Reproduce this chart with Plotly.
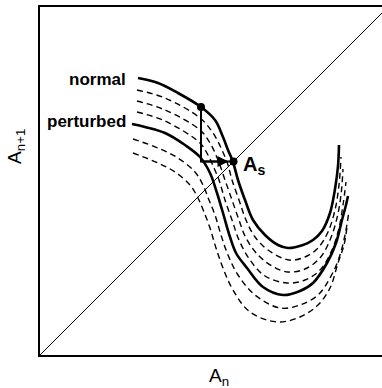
import plotly.graph_objects as go

# Return-map curves A_{n+1} = f(A_n); units are arbitrary (box spans 0..348).
normal_x = [98, 118, 138, 161, 175, 183, 188, 193, 198, 205, 213, 225, 238, 248, 263, 273, 282, 290, 295, 298, 299]
normal_y = [277, 272, 262, 248, 235, 218, 205, 193, 175, 155, 135, 120, 110, 107, 110, 115, 124, 142, 166, 189, 210]

perturbed_x = [92, 105, 125, 145, 160, 170, 177, 183, 190, 196, 207, 223, 243, 260, 273, 287, 296, 302, 306, 308]
perturbed_y = [231, 228, 222, 210, 198, 182, 162, 142, 118, 102, 87, 68, 60, 64, 72, 92, 112, 135, 150, 159]

# intermediate and further-perturbed curves (dashed)
dash1_x = [97, 125, 160, 173, 182, 188, 192, 199, 206, 215, 228, 249, 265, 278, 288, 295, 299, 301]
dash1_y = [265, 257, 237, 222, 205, 190, 175, 155, 135, 118, 105, 95, 98, 107, 123, 145, 170, 198]

dash2_x = [97, 125, 160, 170, 178, 185, 192, 199, 206, 218, 232, 248, 265, 280, 290, 297, 301, 303]
dash2_y = [254, 245, 225, 212, 195, 175, 155, 135, 117, 100, 89, 83, 86, 97, 115, 137, 160, 186]

dash3_x = [97, 125, 160, 168, 174, 179, 185, 192, 199, 210, 225, 247, 265, 280, 292, 299, 303, 306]
dash3_y = [243, 234, 212, 200, 187, 175, 155, 135, 115, 95, 79, 72, 75, 85, 105, 127, 150, 173]

dash5_x = [93, 118, 138, 155, 163, 169, 175, 181, 188, 198, 215, 240, 260, 278, 290, 299, 305, 309]
dash5_y = [216, 207, 197, 183, 170, 155, 140, 120, 100, 80, 60, 47, 50, 60, 77, 97, 120, 144]

dash6_x = [93, 118, 135, 150, 158, 164, 170, 176, 183, 193, 210, 237, 260, 278, 290, 298, 304, 307]
dash6_y = [202, 192, 183, 170, 157, 143, 127, 107, 87, 65, 43, 33, 38, 50, 67, 92, 110, 128]

# identity line A_{n+1} = A_n
diag_x = [0, 348]
diag_y = [0, 348]

# iteration step: point on the normal curve -> perturbed curve -> fixed point A_s
step_x = [161, 161]
step_y = [248, 193.5]
fixed_x = 193.5
fixed_y = 193.5

FONT = "Liberation Sans, Arial, Helvetica, sans-serif"

fig = go.Figure()

fig.add_trace(go.Scatter(x=diag_x, y=diag_y, mode="lines",
                         line=dict(color="black", width=1)))

for xs, ys in [(dash1_x, dash1_y), (dash2_x, dash2_y), (dash3_x, dash3_y),
               (dash5_x, dash5_y), (dash6_x, dash6_y)]:
    fig.add_trace(go.Scatter(x=xs, y=ys, mode="lines",
                             line=dict(color="black", width=1.4, dash="6px,4px",
                                       shape="spline", smoothing=1)))

for xs, ys in [(normal_x, normal_y), (perturbed_x, perturbed_y)]:
    fig.add_trace(go.Scatter(x=xs, y=ys, mode="lines",
                             line=dict(color="black", width=2.6,
                                       shape="spline", smoothing=1)))

# vertical drop and horizontal move to the fixed point
fig.add_trace(go.Scatter(x=step_x + [fixed_x], y=step_y + [fixed_y], mode="lines",
                         line=dict(color="black", width=2)))
fig.add_annotation(x=fixed_x - 5, y=fixed_y, ax=step_x[1], ay=step_y[1],
                   xref="x", yref="y", axref="x", ayref="y",
                   showarrow=True, arrowhead=2, arrowsize=1.1, arrowwidth=2,
                   arrowcolor="black", text="")

fig.add_trace(go.Scatter(x=[step_x[0], fixed_x], y=[step_y[0], fixed_y], mode="markers",
                         marker=dict(color="black", size=8)))

fig.add_annotation(x=88, y=276, xref="x", yref="y", text="<b>normal</b>",
                   showarrow=False, xanchor="right", yanchor="middle",
                   font=dict(family=FONT, size=17, color="black"))
fig.add_annotation(x=88, y=234, xref="x", yref="y", text="<b>perturbed</b>",
                   showarrow=False, xanchor="right", yanchor="middle",
                   font=dict(family=FONT, size=17, color="black"))
fig.add_annotation(x=201, y=190, xref="x", yref="y", text="<b>A<sub>s</sub></b>",
                   showarrow=False, xanchor="left", yanchor="middle",
                   font=dict(family=FONT, size=20, color="black"))

fig.add_annotation(x=0.523, y=-0.062, xref="paper", yref="paper", text="A<sub>n</sub>",
                   showarrow=False, xanchor="center", yanchor="middle",
                   font=dict(family=FONT, size=19, color="black"))
fig.add_annotation(x=-0.07, y=0.598, xref="paper", yref="paper", text="A<sub>n+1</sub>",
                   showarrow=False, xanchor="center", yanchor="middle", textangle=-90,
                   font=dict(family=FONT, size=19, color="black"))

fig.update_layout(
    width=382, height=388,
    margin=dict(l=40, r=0, t=7, b=33),
    paper_bgcolor="white", plot_bgcolor="white",
    showlegend=False,
    xaxis=dict(range=[0, 342], showgrid=False, zeroline=False, showticklabels=False,
               ticks="", showline=True, linecolor="black", linewidth=2, mirror=True),
    yaxis=dict(range=[0, 348], showgrid=False, zeroline=False, showticklabels=False,
               ticks="", showline=True, linecolor="black", linewidth=2, mirror=False),
)

fig.write_html("out.html")
